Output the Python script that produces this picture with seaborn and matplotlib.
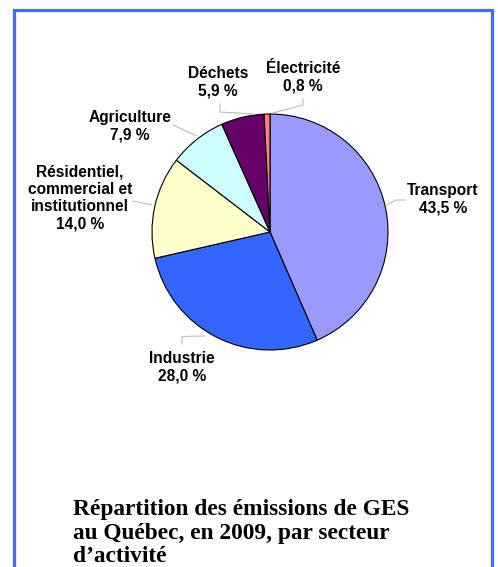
import matplotlib
matplotlib.use("Agg")
import matplotlib.pyplot as plt
import matplotlib.patches as mpatches
import seaborn as sns
import numpy as np

sectors = ["Transport", "Industrie", "Résidentiel,\ncommercial et\ninstitutionnel",
           "Agriculture", "Déchets", "Électricité"]
shares = [43.5, 28.0, 14.0, 7.9, 5.9, 0.8]
share_labels = ["43,5 %", "28,0 %", "14,0 %", "7,9 %", "5,9 %", "0,8 %"]
colors = ["#9999FF", "#3366FF", "#FFFFCC", "#CCFFFF", "#660066", "#FF8080"]
title = "Répartition des émissions de GES\nau Québec, en 2009, par secteur\nd’activité"

sns.set_theme(style="white")
plt.rcParams["font.family"] = ["Liberation Sans", "DejaVu Sans"]

W, H = 498, 567
fig = plt.figure(figsize=(W / 100, H / 100), dpi=100)
fig.patch.set_facecolor("white")

# pie axes: centre (270, 232) px, radius 118 px
cx, cy, r = 270, 232, 118
ax = fig.add_axes([(cx - r) / W, (H - cy - r) / H, 2 * r / W, 2 * r / H])
wedges, _ = ax.pie(shares, colors=colors, startangle=90, counterclock=False,
                   radius=1, wedgeprops=dict(edgecolor="black", linewidth=0.8))
ax.set_xlim(-1, 1)
ax.set_ylim(-1, 1)
ax.set_aspect("equal")
ax.axis("off")

def px(x, y):
    return ((x - cx) / r, (cy - y) / r)

# label positions (px centres) and leader lines (px polylines)
label_pos = [(443, 199), (182, 367), (80, 198), (130, 126), (218, 82), (303, 77)]
leaders = [
    [(405, 200), (396, 200), (387, 205)],
    [(182, 344), (182, 336.5), (205, 336)],
    [(133, 201), (152, 205)],
    [(173, 125), (197, 136)],
    [(220, 104), (220, 112), (255, 114)],
    [(303, 99), (303, 105), (273, 113)],
]
for name, lab, pos, ld in zip(sectors, share_labels, label_pos, leaders):
    x, y = px(*pos)
    ax.text(x, y, f"{name}\n{lab}", ha="center", va="center", fontsize=11.2,
            fontweight="bold", linespacing=1.2, color="black", clip_on=False)
    pts = np.array([px(a, b) for a, b in ld])
    ax.plot(pts[:, 0], pts[:, 1], color="#bdbdbd", lw=0.8, clip_on=False)

fig.text(73 / W, 1 - 499 / H, title, ha="left", va="top", fontsize=16.8,
         fontweight="bold", family=["Liberation Serif", "DejaVu Serif"],
         linespacing=1.17, color="black")

border = mpatches.Rectangle((14 / W, -0.05), (492 - 14) / W, (H - 10) / H + 0.05,
                            transform=fig.transFigure, fill=False,
                            edgecolor="#3f6cff", linewidth=2.3)
fig.patches.append(border)

fig.savefig("out.png", dpi=100)
